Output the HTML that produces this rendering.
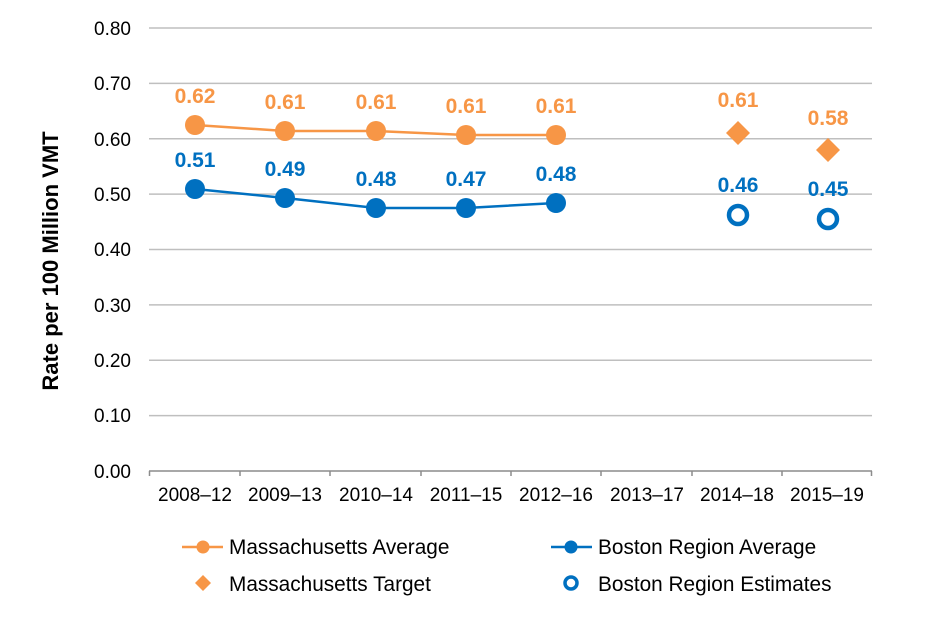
<!DOCTYPE html>
<html><head><meta charset="utf-8"><style>body{margin:0;background:#fff}svg{display:block}</style></head><body>
<svg width="939" height="627" xmlns="http://www.w3.org/2000/svg" font-family="Liberation Sans, Arial, sans-serif">
<g stroke="#bfbfbf" stroke-width="1.5">
<line x1="149" x2="872" y1="28" y2="28"/><line x1="149" x2="872" y1="83.4" y2="83.4"/>
<line x1="149" x2="872" y1="138.8" y2="138.8"/><line x1="149" x2="872" y1="194.1" y2="194.1"/>
<line x1="149" x2="872" y1="249.5" y2="249.5"/><line x1="149" x2="872" y1="304.9" y2="304.9"/>
<line x1="149" x2="872" y1="360.3" y2="360.3"/><line x1="149" x2="872" y1="415.6" y2="415.6"/>
</g>
<g stroke="#8c8c8c" stroke-width="1.5">
<line x1="149" x2="872" y1="471" y2="471"/>
<line x1="149.5" x2="149.5" y1="471" y2="476"/><line x1="240" x2="240" y1="471" y2="476"/>
<line x1="330" x2="330" y1="471" y2="476"/><line x1="421" x2="421" y1="471" y2="476"/>
<line x1="511" x2="511" y1="471" y2="476"/><line x1="601" x2="601" y1="471" y2="476"/>
<line x1="692" x2="692" y1="471" y2="476"/><line x1="782" x2="782" y1="471" y2="476"/>
<line x1="871.5" x2="871.5" y1="471" y2="476"/>
</g>
<g font-size="19" fill="#000" text-anchor="end">
<text x="131" y="35">0.80</text><text x="131" y="90">0.70</text><text x="131" y="146">0.60</text>
<text x="131" y="201">0.50</text><text x="131" y="256">0.40</text><text x="131" y="312">0.30</text>
<text x="131" y="367">0.20</text><text x="131" y="422">0.10</text><text x="131" y="478">0.00</text>
</g>
<g font-size="19" fill="#000" text-anchor="middle">
<text x="195" y="501">2008–12</text><text x="285" y="501">2009–13</text><text x="376" y="501">2010–14</text>
<text x="466" y="501">2011–15</text><text x="556" y="501">2012–16</text><text x="647" y="501">2013–17</text>
<text x="737" y="501">2014–18</text><text x="827" y="501">2015–19</text>
</g>
<text transform="translate(58,261) rotate(-90)" font-size="22" font-weight="bold" text-anchor="middle">Rate per 100 Million VMT</text>
<polyline points="195,125 285,131 376,131 466,135 556,135" fill="none" stroke="#F79646" stroke-width="2.5"/>
<g fill="#F79646"><circle cx="195" cy="125" r="10"/><circle cx="285" cy="131" r="10"/><circle cx="376" cy="131" r="10"/><circle cx="466" cy="135" r="10"/><circle cx="556" cy="135" r="10"/>
<polygon points="738,121 750,133 738,145 726,133"/><polygon points="828,138 840,150 828,162 816,150"/></g>
<polyline points="195,189 285,198 376,208 466,208 556,203" fill="none" stroke="#0070C0" stroke-width="2.5"/>
<g fill="#0070C0"><circle cx="195" cy="189" r="10"/><circle cx="285" cy="198" r="10"/><circle cx="376" cy="208" r="10"/><circle cx="466" cy="208" r="10"/><circle cx="556" cy="203" r="10"/></g>
<g fill="#fff" stroke="#0070C0" stroke-width="4.5"><circle cx="738" cy="215" r="9"/><circle cx="828" cy="219" r="9"/></g>
<g font-size="21" font-weight="bold" fill="#F79646" text-anchor="middle">
<text x="195" y="103">0.62</text><text x="285" y="109">0.61</text><text x="376" y="109">0.61</text><text x="466" y="113">0.61</text><text x="556" y="113">0.61</text>
<text x="738" y="107">0.61</text><text x="828" y="125">0.58</text></g>
<g font-size="21" font-weight="bold" fill="#0070C0" text-anchor="middle">
<text x="195" y="167">0.51</text><text x="285" y="176">0.49</text><text x="376" y="186">0.48</text><text x="466" y="186">0.47</text><text x="556" y="181">0.48</text>
<text x="738" y="192">0.46</text><text x="828" y="196">0.45</text></g>
<line x1="182" x2="223" y1="547" y2="547" stroke="#F79646" stroke-width="2.5"/><circle cx="203" cy="547" r="6.5" fill="#F79646"/>
<polygon points="203,575 211,583 203,591 195,583" fill="#F79646"/>
<line x1="551" x2="592" y1="547" y2="547" stroke="#0070C0" stroke-width="2.5"/><circle cx="571" cy="547" r="6.5" fill="#0070C0"/>
<circle cx="571" cy="583" r="6" fill="#fff" stroke="#0070C0" stroke-width="3.5"/>
<g font-size="20.8" fill="#000">
<text x="229" y="554">Massachusetts Average</text><text x="229" y="591">Massachusetts Target</text>
<text x="598" y="554">Boston Region Average</text><text x="598" y="591">Boston Region Estimates</text></g>
</svg>
</body></html>
